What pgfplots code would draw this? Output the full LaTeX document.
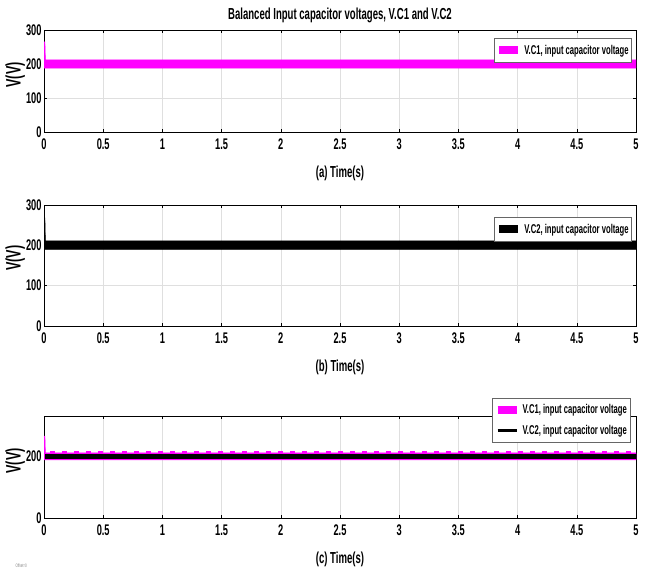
\documentclass[border=0pt]{standalone}
\usepackage{fontspec}
\setmainfont{Liberation Sans}[FakeStretch=0.6]
\usepackage{pgfplots}
\pgfplotsset{compat=1.18}
\definecolor{mag}{RGB}{255,0,255}
\pgfplotsset{
  mystyle/.style={
    scale only axis, width=592bp, anchor=north west,
    xmin=0, xmax=5, xtick={0,0.5,...,5},
    xticklabels={0,0.5,1,1.5,2,2.5,3,3.5,4,4.5,5},
    grid=major, grid style={gray!25, line width=0.4bp},
    tick align=inside, major tick length=3bp,
    tick style={black, line width=0.4bp},
    axis line style={black, line width=0.6bp},
    ticklabel style={font=\fontsize{15.5}{16}\selectfont\bfseries},
    xticklabel style={yshift=-3bp},
    yticklabel style={xshift=1bp},
    /pgf/number format/assume math mode=true,
    xlabel style={font=\fontsize{16}{17}\selectfont\bfseries, at={(axis description cs:0.5,0)}, anchor=north, yshift=-30bp},
    ylabel style={font=\fontsize{21}{22}\selectfont\bfseries, at={(axis description cs:-0.026,0.56)}, anchor=south},
    legend style={font=\fontsize{12.8}{13}\selectfont\bfseries, draw=black!60, line width=0.5bp,
       inner xsep=1bp, inner ysep=4.5bp, row sep=6bp, fill=white, cells={anchor=west}},
    legend image code/.code={\draw[#1] (0bp,0bp) -- (19bp,0bp);},
  }
}
\begin{document}
\begin{tikzpicture}
\useasboundingbox (0,0) rectangle (649bp,-573bp);
% ---------- (a)
\begin{axis}[mystyle, at={(44bp,-30bp)}, height=102bp,
  ymin=0, ymax=300, ytick={0,100,200,300},
  xlabel={(a) Time(s)}, ylabel={V(V)},
  title={Balanced Input capacitor voltages, V.C1 and V.C2},
  title style={font=\fontsize{16}{17}\selectfont\bfseries, yshift=-2bp},
  legend style={at={(0.993,0.92)}, anchor=north east}]
\addplot[fill=mag, draw=mag, line width=0.4bp, forget plot] coordinates {
 (0,188) (0,265) (0.008,265) (0.012,212) (5,212) (5,188)} -- cycle;
\addlegendimage{mag, line width=8bp}
\addlegendentry{V.C1, input capacitor voltage}
\end{axis}
% ---------- (b)
\begin{axis}[mystyle, at={(44bp,-205bp)}, height=121bp,
  ymin=0, ymax=300, ytick={0,100,200,300},
  xlabel={(b) Time(s)}, ylabel={V(V)},
  legend style={at={(0.993,0.9)}, anchor=north east}]
\addplot[fill=black, draw=black, line width=0.4bp, forget plot] coordinates {
 (0,190) (0,268) (0.008,268) (0.012,211) (5,211) (5,190)} -- cycle;
\addlegendimage{black, line width=8bp}
\addlegendentry{V.C2, input capacitor voltage}
\end{axis}
% ---------- (c)
\begin{axis}[mystyle, at={(44bp,-416bp)}, height=102bp,
  ymin=0, ymax=330, ytick={0,200},
  xlabel={(c) Time(s)}, ylabel={V(V)},
  legend style={at={(0.99,1.18)}, anchor=north east}]
\addplot[fill=mag, draw=mag, line width=0.4bp, forget plot] coordinates {
 (0,188) (0,265) (0.008,265) (0.012,211) (5,211) (5,188)} -- cycle;
\addplot[mag, line width=2.5bp, dash pattern=on 5bp off 7bp, forget plot] coordinates {(0.05,213) (5,213)};
\addplot[fill=black, draw=black, line width=0.4bp, forget plot] coordinates {
 (0.012,194) (0.012,206) (5,206) (5,194)} -- cycle;
\addlegendimage{mag, line width=8bp}
\addlegendentry{V.C1, input capacitor voltage}
\addlegendimage{black, line width=3.5bp}
\addlegendentry{V.C2, input capacitor voltage}
\end{axis}
\node[anchor=west, font=\fontsize{5}{6}\selectfont, text=gray] at (12bp,-566bp) {Offset=0};
\end{tikzpicture}
\end{document}
